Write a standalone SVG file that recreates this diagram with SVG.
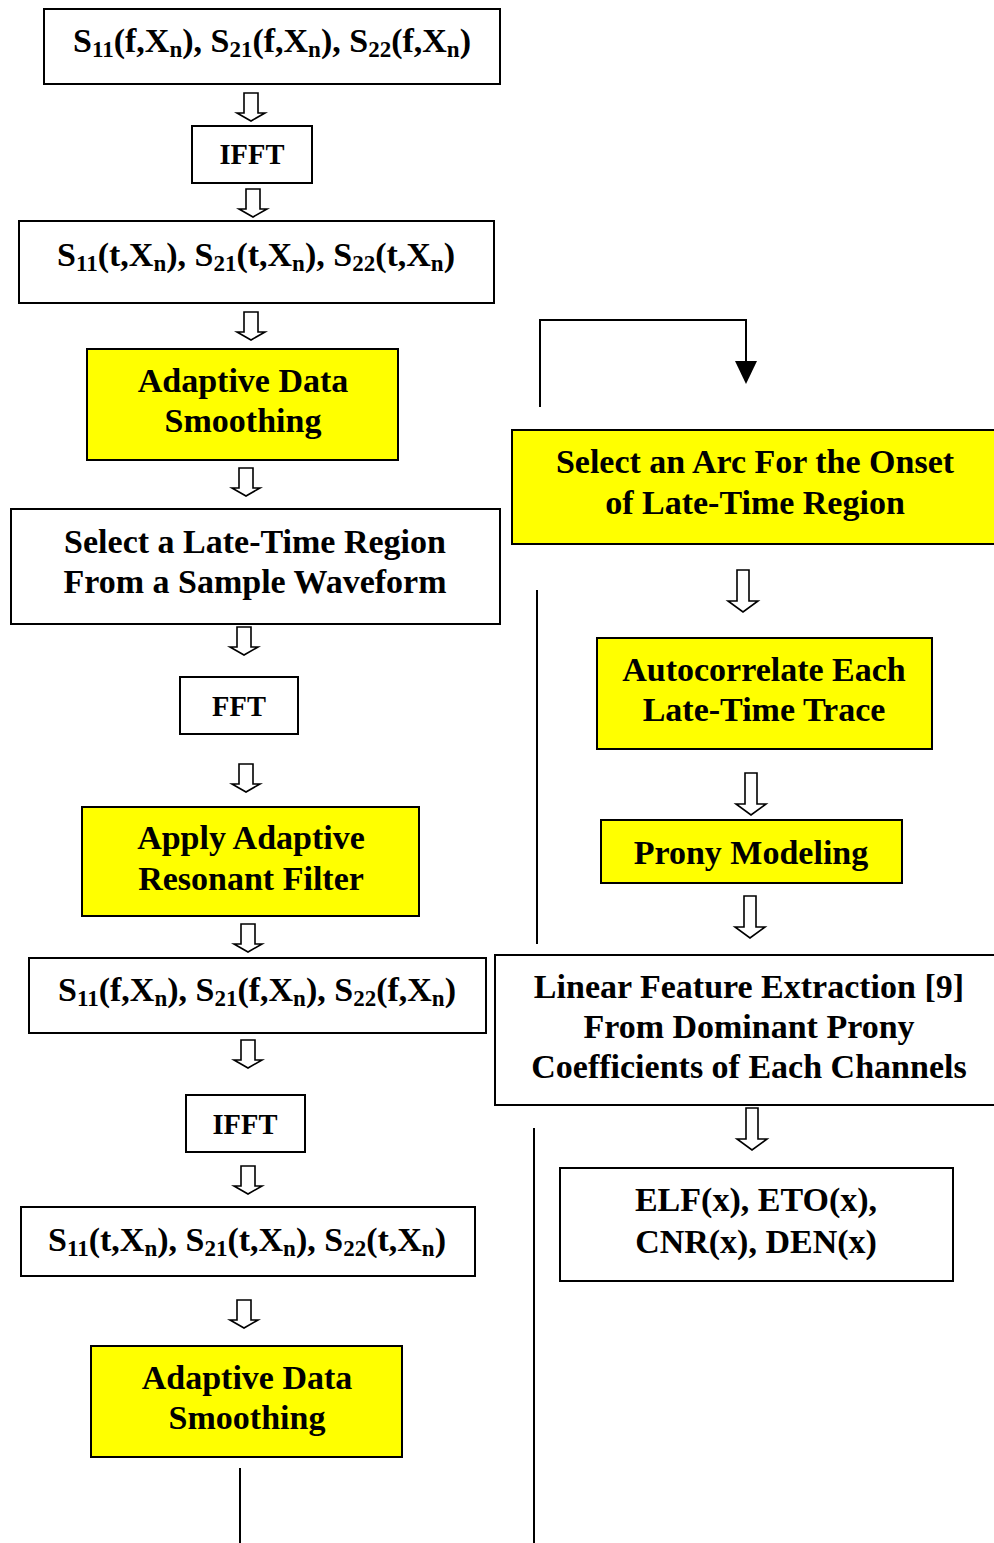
<svg xmlns="http://www.w3.org/2000/svg" width="994" height="1543" viewBox="0 0 994 1543">
<defs>
<style>
.box{fill:#fff;stroke:#000;stroke-width:2}
.ybox{fill:#ffff00;stroke:#000;stroke-width:2}
.t{font-family:"Liberation Serif","Times New Roman",serif;font-weight:bold;font-size:34px;text-anchor:middle;fill:#000}
.s{font-size:23px}
.sm{font-size:28.5px}
.ha{fill:#fff;stroke:#000;stroke-width:1.6;stroke-linejoin:miter}
.ln{fill:none;stroke:#000;stroke-width:2}
</style>
<path id="sa" d="M-7,0 H7 V20 H14 L0,28 L-14,20 H-7 Z"/>
<path id="la" d="M-6,0 H6 V31 H15 L0,42 L-15,31 H-6 Z"/>
</defs>
<g id="connectors">
<use href="#sa" x="251" y="93" class="ha"/>
<use href="#sa" x="253" y="189" class="ha"/>
<use href="#sa" x="251" y="312" class="ha"/>
<use href="#sa" x="246" y="468" class="ha"/>
<use href="#sa" x="244" y="627" class="ha"/>
<use href="#sa" x="246" y="764" class="ha"/>
<use href="#sa" x="248" y="924" class="ha"/>
<use href="#sa" x="248" y="1040" class="ha"/>
<use href="#sa" x="248" y="1166" class="ha"/>
<use href="#sa" x="244" y="1300" class="ha"/>
<use href="#la" x="743" y="570" class="ha"/>
<use href="#la" x="751" y="773" class="ha"/>
<use href="#la" x="750" y="896" class="ha"/>
<use href="#la" x="752" y="1108" class="ha"/>
<path class="ln" d="M540,407 V320 H746 V362"/>
<path d="M735,361 H757 L746,384 Z" fill="#000"/>
<line class="ln" x1="537" y1="590" x2="537" y2="944"/>
<line class="ln" x1="534" y1="1128" x2="534" y2="1543"/>
<line class="ln" x1="240" y1="1468" x2="240" y2="1543"/>
</g>
<g id="n1"><rect class="box" x="44" y="9" width="456" height="75"/>
<text class="t" x="272" y="52">S<tspan class="s" dy="5">11</tspan><tspan dy="-5">(f,X</tspan><tspan class="s" dy="5">n</tspan><tspan dy="-5">), S</tspan><tspan class="s" dy="5">21</tspan><tspan dy="-5">(f,X</tspan><tspan class="s" dy="5">n</tspan><tspan dy="-5">), S</tspan><tspan class="s" dy="5">22</tspan><tspan dy="-5">(f,X</tspan><tspan class="s" dy="5">n</tspan><tspan dy="-5">)</tspan></text></g>
<g id="n2"><rect class="box" x="192" y="126" width="120" height="57"/><text class="t sm" x="252" y="164">IFFT</text></g>
<g id="n3"><rect class="box" x="19" y="221" width="475" height="82"/>
<text class="t" x="256" y="266">S<tspan class="s" dy="5">11</tspan><tspan dy="-5">(t,X</tspan><tspan class="s" dy="5">n</tspan><tspan dy="-5">), S</tspan><tspan class="s" dy="5">21</tspan><tspan dy="-5">(t,X</tspan><tspan class="s" dy="5">n</tspan><tspan dy="-5">), S</tspan><tspan class="s" dy="5">22</tspan><tspan dy="-5">(t,X</tspan><tspan class="s" dy="5">n</tspan><tspan dy="-5">)</tspan></text></g>
<g id="n4"><rect class="ybox" x="87" y="349" width="311" height="111"/>
<text class="t" x="243" y="392">Adaptive Data</text><text class="t" x="243" y="432">Smoothing</text></g>
<g id="n5"><rect class="box" x="11" y="509" width="489" height="115"/>
<text class="t" x="255" y="553">Select a Late-Time Region</text><text class="t" x="255" y="593">From a Sample Waveform</text></g>
<g id="n6"><rect class="box" x="180" y="677" width="118" height="57"/><text class="t sm" x="239" y="716">FFT</text></g>
<g id="n7"><rect class="ybox" x="82" y="807" width="337" height="109"/>
<text class="t" x="251" y="849">Apply Adaptive</text><text class="t" x="251" y="890">Resonant Filter</text></g>
<g id="n8"><rect class="box" x="29" y="958" width="457" height="75"/>
<text class="t" x="257" y="1001">S<tspan class="s" dy="5">11</tspan><tspan dy="-5">(f,X</tspan><tspan class="s" dy="5">n</tspan><tspan dy="-5">), S</tspan><tspan class="s" dy="5">21</tspan><tspan dy="-5">(f,X</tspan><tspan class="s" dy="5">n</tspan><tspan dy="-5">), S</tspan><tspan class="s" dy="5">22</tspan><tspan dy="-5">(f,X</tspan><tspan class="s" dy="5">n</tspan><tspan dy="-5">)</tspan></text></g>
<g id="n9"><rect class="box" x="186" y="1095" width="119" height="57"/><text class="t sm" x="245" y="1134">IFFT</text></g>
<g id="n10"><rect class="box" x="21" y="1207" width="454" height="69"/>
<text class="t" x="247" y="1251">S<tspan class="s" dy="5">11</tspan><tspan dy="-5">(t,X</tspan><tspan class="s" dy="5">n</tspan><tspan dy="-5">), S</tspan><tspan class="s" dy="5">21</tspan><tspan dy="-5">(t,X</tspan><tspan class="s" dy="5">n</tspan><tspan dy="-5">), S</tspan><tspan class="s" dy="5">22</tspan><tspan dy="-5">(t,X</tspan><tspan class="s" dy="5">n</tspan><tspan dy="-5">)</tspan></text></g>
<g id="n11"><rect class="ybox" x="91" y="1346" width="311" height="111"/>
<text class="t" x="247" y="1389">Adaptive Data</text><text class="t" x="247" y="1429">Smoothing</text></g>
<g id="n12"><rect class="ybox" x="512" y="430" width="490" height="114"/>
<text class="t" x="755" y="473">Select an Arc For the Onset</text><text class="t" x="755" y="514">of Late-Time Region</text></g>
<g id="n13"><rect class="ybox" x="597" y="638" width="335" height="111"/>
<text class="t" x="764" y="681">Autocorrelate Each</text><text class="t" x="764" y="721">Late-Time Trace</text></g>
<g id="n14"><rect class="ybox" x="601" y="820" width="301" height="63"/>
<text class="t" x="751" y="864">Prony Modeling</text></g>
<g id="n15"><rect class="box" x="495" y="955" width="510" height="150"/>
<text class="t" x="749" y="998">Linear Feature Extraction [9]</text><text class="t" x="749" y="1038">From Dominant Prony</text><text class="t" x="749" y="1078">Coefficients of Each Channels</text></g>
<g id="n16"><rect class="box" x="560" y="1168" width="393" height="113"/>
<text class="t" x="756" y="1211">ELF(x), ETO(x),</text><text class="t" x="756" y="1253">CNR(x), DEN(x)</text></g>
</svg>
